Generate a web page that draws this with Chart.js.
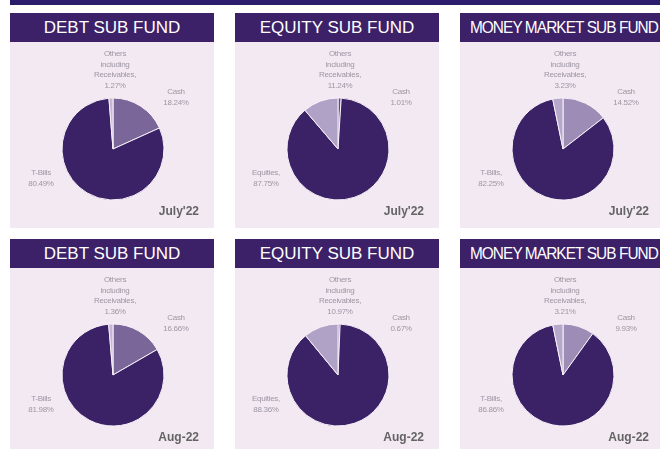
<!DOCTYPE html>
<html>
<head>
<meta charset="utf-8">
<script src="https://cdn.jsdelivr.net/npm/chart.js@4"></script>
<style>
  body { margin: 0; background: #fff; width: 660px; height: 449px; overflow: hidden; position: relative; font-family: "Liberation Sans", Arial, sans-serif; }
  .topbar { position: absolute; left: 10px; top: 0; width: 650px; height: 5px; background: #2b1c6c; }
  .panel { position: absolute; width: 204px; }
  .head { height: 29px; background: #3c2068; color: #fff; font-size: 17px; line-height: 30px; text-align: center; white-space: nowrap; overflow: hidden; }
  .head.tight span { display: inline-block; letter-spacing: -1px; transform: scaleX(0.905); }
  .body { height: 186px; background: #f3e9f3; }
  canvas { display: block; }
</style>
</head>
<body>
<div class="topbar"></div>
<div id="grid"></div>
<script>
// ---------------- Portfolio mix by sub fund ----------------
const funds = ['DEBT SUB FUND', 'EQUITY SUB FUND', 'MONEY MARKET SUB FUND'];
const periods = ["July'22", 'Aug-22'];

const debtNames = ['Cash', 'T-Bills', 'Others\nincluding\nReceivables,'];
const equityNames = ['Cash', 'Equities,', 'Others\nincluding\nReceivables,'];
const mmNames = ['Cash', 'T-Bills,', 'Others\nincluding\nReceivables,'];

const debtJul = [18.24, 80.49, 1.27];
const debtAug = [16.66, 81.98, 1.36];
const equityJul = [1.01, 87.75, 11.24];
const equityAug = [0.67, 88.36, 10.97];
const mmJul = [14.52, 82.25, 3.23];
const mmAug = [9.93, 86.86, 3.21];

const debtColors = ['#7a6698', '#3b2266', '#c4b6d4'];
const equityColors = ['#5e4a8c', '#3b2266', '#b0a2c6'];
const mmColors = ['#9c8cb6', '#3b2266', '#b6a8ca'];

const panels = [
    { fund: 0, period: 0, names: debtNames, values: debtJul, colors: debtColors },
    { fund: 1, period: 0, names: equityNames, values: equityJul, colors: equityColors },
    { fund: 2, period: 0, names: mmNames, values: mmJul, colors: mmColors },
    { fund: 0, period: 1, names: debtNames, values: debtAug, colors: debtColors },
    { fund: 1, period: 1, names: equityNames, values: equityAug, colors: equityColors },
    { fund: 2, period: 1, names: mmNames, values: mmAug, colors: mmColors }
];

// label anchors relative to the pie centre: cash, main holding, others
const labelSpots = [
    { dx: 63, dy: -57 },
    { dx: -72, dy: 24 },
    { dx: 2, dy: -95 }
];

const sliceLabels = {
    id: 'sliceLabels',
    afterDraw(chart, args, opts) {
        const ctx = chart.ctx;
        const arc = chart.getDatasetMeta(0).data[0];
        const cx = arc.x, cy = arc.y;
        const ds = chart.data.datasets[0];
        ctx.save();
        ctx.font = '8px "Liberation Sans", Arial, sans-serif';
        ctx.letterSpacing = '-0.3px';
        ctx.fillStyle = '#9c97a3';
        ctx.textBaseline = 'middle';
        ctx.textAlign = 'center';
        chart.data.labels.forEach((name, i) => {
            const spot = labelSpots[i];
            const lines = name.split('\n').concat([ds.data[i].toFixed(2) + '%']);
            lines.forEach((t, j) => ctx.fillText(t, cx + spot.dx, cy + spot.dy + j * 10.6));
        });
        // period stamp
        ctx.font = 'bold 12px "Liberation Sans", Arial, sans-serif';
        ctx.letterSpacing = '0px';
        ctx.fillStyle = '#646464';
        ctx.textAlign = 'right';
        ctx.fillText(opts.period, 189, 170);
        ctx.restore();
    }
};

const grid = document.getElementById('grid');
const lefts = [10, 235, 460];
const tops = [13, 239];

panels.forEach(p => {
    const panel = document.createElement('div');
    panel.className = 'panel';
    panel.style.left = lefts[p.fund] + 'px';
    panel.style.top = tops[p.period] + 'px';
    panel.innerHTML = '<div class="head' + (p.fund === 2 ? ' tight' : '') + '"><span>' + funds[p.fund] + '</span></div>' +
        '<div class="body"><canvas width="204" height="186"></canvas></div>';
    grid.appendChild(panel);

    const ctx = panel.querySelector('canvas').getContext('2d');
    new Chart(ctx, {
        type: 'pie',
        data: {
            labels: p.names,
            datasets: [{
                data: p.values,
                backgroundColor: p.colors,
                borderColor: '#f7f0f7',
                borderWidth: 1,
                hoverOffset: 0
            }]
        },
        options: {
            responsive: false,
            animation: false,
            radius: 51,
            layout: { padding: { left: 41, right: 39, top: 40, bottom: 12 } },
            plugins: {
                legend: { display: false },
                tooltip: { enabled: false },
                sliceLabels: { period: periods[p.period] }
            }
        },
        plugins: [sliceLabels]
    });
});
</script>
</body>
</html>
